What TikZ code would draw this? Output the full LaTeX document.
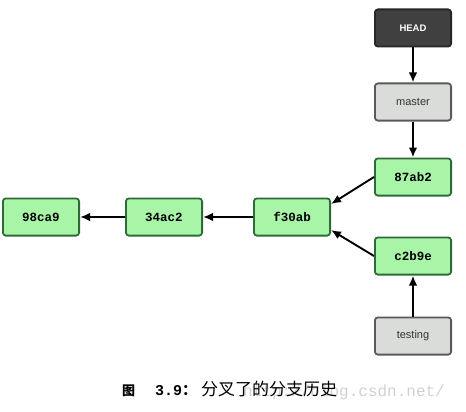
\documentclass[tikz,border=0pt]{standalone}
\usepackage{fontspec}
\setmainfont{Liberation Sans}
\newfontfamily\cjk{Noto Sans CJK SC}
\newfontfamily\monob{Liberation Mono}
\usetikzlibrary{arrows.meta}
\definecolor{commitfill}{HTML}{A8F5A8}
\definecolor{commitline}{HTML}{2C6A38}
\definecolor{reffill}{HTML}{D9DCD9}
\definecolor{refline}{HTML}{595959}
\definecolor{headfill}{HTML}{404040}
\definecolor{headline}{HTML}{262626}
\tikzset{
  box/.style={line width=1.8pt, rounded corners=3pt, minimum width=76.2pt, minimum height=37.2pt, inner sep=0pt},
  commit/.style={box, draw=commitline, fill=commitfill, font=\monob\bfseries\fontsize{12.5}{14}\selectfont},
  refbox/.style={box, draw=refline, fill=reffill, text=black!80, font=\fontsize{11}{13}\selectfont},
  headbox/.style={box, draw=headline, fill=headfill, text=white, font=\bfseries\fontsize{9.5}{11}\selectfont},
  arr/.style={-{Latex[length=10pt,width=8.5pt]}, line width=1.9pt}
}
\begin{document}
\begin{tikzpicture}[x=1pt,y=-1pt]
    \useasboundingbox (0,0) rectangle (466,412);

    % refs and commits
    \node[headbox] (head) at (413,28) {HEAD};
    \node[refbox] (master) at (413,102) {master};
    \node[commit] (c87ab2) at (413,177) {87ab2};
    \node[commit] (c2b9e) at (413,256) {c2b9e};
    \node[refbox] (testing) at (413,336) {testing};
    \node[commit] (f30ab) at (292,217) {f30ab};
    \node[commit] (c34ac2) at (164,217) {34ac2};
    \node[commit] (c98ca9) at (41,217) {98ca9};

    \draw[arr] (head) -- (master);
    \draw[arr] (master) -- (c87ab2);
    \draw[arr] (testing) -- (c2b9e);
    \draw[arr] (c87ab2.west) -- ([yshift=13pt]f30ab.east);
    \draw[arr] (c2b9e.west) -- ([yshift=-13pt]f30ab.east);
    \draw[arr] (f30ab) -- (c34ac2);
    \draw[arr] (c34ac2) -- (c98ca9);

    % caption
    \node[anchor=base west, inner sep=0pt, text=black!18, font=\monob\fontsize{16}{16}\selectfont] (mark) at (243,396) {http://blog.csdn.net/};
    \node[anchor=base west, inner sep=0pt, font=\cjk\bfseries\fontsize{13}{15}\selectfont] (figword) at (122,395) {图};
    \node[anchor=base west, inner sep=0pt, font=\monob\bfseries\fontsize{15}{17}\selectfont] (fignum) at (155,395) {3.9\cjk：};
    \node[anchor=base west, inner sep=0pt, font=\cjk\fontsize{17}{19}\selectfont] (figtext) at (201,395) {分叉了的分支历史};
\end{tikzpicture}
\end{document}
